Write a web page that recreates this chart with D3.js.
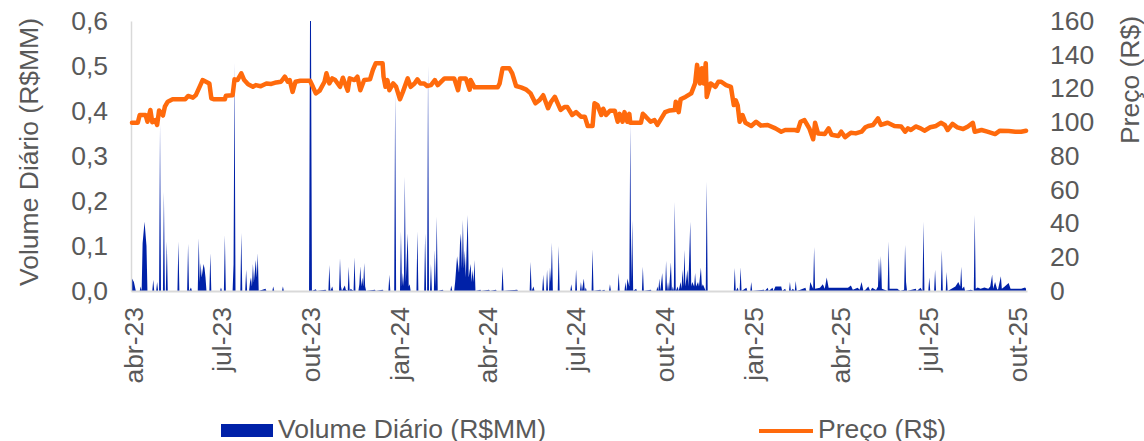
<!DOCTYPE html>
<html><head><meta charset="utf-8">
<script src="https://cdn.jsdelivr.net/npm/d3@7"></script>
<style>
body{margin:0;background:#fff;}
svg text{font-family:"Liberation Sans",Arial,sans-serif;font-size:26.5px;fill:#595959;}
</style>
</head><body>
<svg id="chart" width="1144" height="441"></svg>
<script>
const monthNames = ["jan","fev","mar","abr","mai","jun","jul","ago","set","out","nov","dez"];
const volumeTicks = [0, 0.1, 0.2, 0.3, 0.4, 0.5, 0.6];
const priceTicks = [0, 20, 40, 60, 80, 100, 120, 140, 160];
const seriesNames = ["Volume Diário (R$MM)", "Preço (R$)"];
const axisTitles = ["Volume Diário (R$MM)", "Preço (R$)"];
const dateDomain = ["2023-03-30", "2025-10-11"];

const price = [
["2023-03-31",99.7],["2023-04-06",99.7],["2023-04-08",104.3],["2023-04-14",104.3],["2023-04-16",100.3],["2023-04-19",107.3],["2023-04-21",100.0],["2023-04-24",101.3],["2023-04-26",98.4],["2023-04-28",107.0],
["2023-05-02",104.0],["2023-05-04",109.2],["2023-05-07",112.2],["2023-05-12",113.6],["2023-05-25",113.6],["2023-05-28",115.6],["2023-06-02",114.6],["2023-06-05",116.1],["2023-06-09",121.1],["2023-06-12",125.0],
["2023-06-19",123.0],["2023-06-21",114.2],["2023-06-24",113.6],["2023-07-05",113.6],["2023-07-06",115.7],["2023-07-13",116.0],["2023-07-15",125.4],["2023-07-18",125.0],["2023-07-22",129.0],["2023-07-25",125.0],
["2023-07-29",122.5],["2023-08-03",121.0],["2023-08-06",122.0],["2023-08-11",121.3],["2023-08-17",123.0],["2023-08-22",122.7],["2023-08-27",123.6],["2023-09-01",124.0],["2023-09-05",127.0],["2023-09-08",124.0],
["2023-09-10",125.0],["2023-09-13",118.0],["2023-09-16",124.0],["2023-09-21",124.6],["2023-10-01",124.6],["2023-10-04",121.0],["2023-10-07",117.1],["2023-10-11",118.7],["2023-10-16",124.0],["2023-10-18",129.0],
["2023-10-21",123.0],["2023-10-24",126.0],["2023-10-27",125.0],["2023-11-01",121.0],["2023-11-04",126.4],["2023-11-09",118.7],["2023-11-11",126.0],["2023-11-16",125.0],["2023-11-19",127.0],["2023-11-22",119.0],
["2023-11-26",125.0],["2023-12-02",125.4],["2023-12-05",131.0],["2023-12-08",135.0],["2023-12-15",135.0],["2023-12-16",127.0],["2023-12-18",121.0],["2023-12-20",125.0],["2023-12-22",119.0],["2023-12-26",123.0],
["2023-12-29",121.0],["2024-01-02",113.6],["2024-01-05",118.0],["2024-01-10",126.0],["2024-01-13",121.0],["2024-01-17",123.0],["2024-01-20",125.4],["2024-01-23",123.0],["2024-01-27",123.0],["2024-01-30",121.5],
["2024-02-03",122.0],["2024-02-07",125.0],["2024-02-10",122.0],["2024-02-17",126.0],["2024-02-27",126.0],["2024-03-02",119.0],["2024-03-04",126.0],["2024-03-10",126.0],["2024-03-14",119.3],["2024-03-15",125.0],
["2024-03-19",120.7],["2024-04-12",120.7],["2024-04-14",123.0],["2024-04-17",132.0],["2024-04-24",132.0],["2024-04-27",129.0],["2024-05-01",121.5],["2024-05-06",120.7],["2024-05-11",119.5],["2024-05-16",117.1],
["2024-05-21",111.2],["2024-05-25",113.0],["2024-05-29",116.0],["2024-06-03",108.3],["2024-06-06",112.0],["2024-06-10",115.1],["2024-06-13",111.2],["2024-06-16",107.3],["2024-06-20",109.0],["2024-06-23",109.0],
["2024-06-28",104.3],["2024-07-02",106.0],["2024-07-07",103.3],["2024-07-11",103.3],["2024-07-14",97.8],["2024-07-19",97.8],["2024-07-21",111.2],["2024-07-24",110.3],["2024-07-28",104.3],["2024-07-30",108.0],
["2024-08-02",104.3],["2024-08-06",106.8],["2024-08-11",106.8],["2024-08-14",100.3],["2024-08-16",105.0],["2024-08-19",100.3],["2024-08-21",106.0],["2024-08-24",100.3],["2024-08-26",105.0],["2024-08-27",99.7],
["2024-09-07",99.7],["2024-09-09",105.0],["2024-09-12",103.3],["2024-09-17",100.3],["2024-09-21",101.3],["2024-09-24",98.4],["2024-09-27",101.3],["2024-10-02",106.0],["2024-10-07",107.0],["2024-10-12",107.3],
["2024-10-13",112.2],["2024-10-16",106.0],["2024-10-18",113.6],["2024-10-23",115.0],["2024-10-29",117.1],["2024-11-02",123.0],["2024-11-04",134.0],["2024-11-07",123.0],["2024-11-09",132.0],["2024-11-11",123.0],
["2024-11-13",135.0],["2024-11-14",115.0],["2024-11-18",123.0],["2024-11-23",121.0],["2024-11-26",124.0],["2024-11-29",124.0],["2024-12-04",122.0],["2024-12-09",121.0],["2024-12-12",110.2],["2024-12-14",113.0],
["2024-12-16",110.0],["2024-12-18",100.3],["2024-12-21",104.3],["2024-12-24",99.7],["2024-12-30",97.8],["2025-01-04",100.3],["2025-01-09",98.0],["2025-01-16",98.4],["2025-01-24",96.4],["2025-01-30",94.4],
["2025-02-03",95.4],["2025-02-13",95.4],["2025-02-16",95.0],["2025-02-19",100.3],["2025-02-23",101.3],["2025-02-28",96.4],["2025-03-04",89.9],["2025-03-06",99.7],["2025-03-09",93.4],["2025-03-16",93.0],
["2025-03-20",96.4],["2025-03-23",92.6],["2025-03-30",91.9],["2025-04-02",94.4],["2025-04-06",91.2],["2025-04-12",93.8],["2025-04-17",93.4],["2025-04-23",94.4],["2025-04-27",97.0],["2025-04-30",97.8],
["2025-05-05",98.4],["2025-05-10",102.3],["2025-05-13",98.4],["2025-05-20",99.7],["2025-05-27",97.8],["2025-06-03",97.5],["2025-06-07",94.4],["2025-06-10",96.4],["2025-06-13",95.4],["2025-06-18",97.5],
["2025-06-23",96.4],["2025-06-27",95.0],["2025-07-03",97.0],["2025-07-09",97.8],["2025-07-14",99.7],["2025-07-18",98.4],["2025-07-21",95.4],["2025-07-26",99.0],["2025-07-31",97.0],["2025-08-06",96.0],
["2025-08-11",97.5],["2025-08-16",99.7],["2025-08-18",94.4],["2025-08-25",95.4],["2025-08-31",94.4],["2025-09-08",93.0],["2025-09-13",95.0],["2025-09-22",94.8],["2025-09-29",94.4],["2025-10-05",94.4],
["2025-10-10",95.0]
];

const volume = [
["2023-03-31",0.028],["2023-04-02",0.02],["2023-04-04",0],["2023-04-08",0],["2023-04-09",0.01],["2023-04-10",0],["2023-04-11",0.106],["2023-04-13",0.154],["2023-04-15",0.1],["2023-04-16",0],
["2023-04-21",0],["2023-04-22",0.025],["2023-04-23",0],["2023-04-25",0],["2023-04-26",0.02],["2023-04-27",0],["2023-04-28",0],["2023-04-29",0.37],["2023-04-30",0],["2023-05-02",0],
["2023-05-03",0.22],["2023-05-04",0],["2023-05-05",0],["2023-05-06",0.11],["2023-05-07",0],["2023-05-17",0],["2023-05-18",0.11],["2023-05-19",0],["2023-05-27",0],["2023-05-28",0.105],
["2023-05-29",0],["2023-05-31",0.008],["2023-06-01",0],["2023-06-07",0],["2023-06-08",0.117],["2023-06-09",0.02],["2023-06-10",0.062],["2023-06-11",0.03],["2023-06-13",0.06],["2023-06-14",0.05],
["2023-06-15",0.03],["2023-06-16",0],["2023-06-19",0],["2023-06-20",0.084],["2023-06-21",0],["2023-06-30",0],["2023-07-01",0.008],["2023-07-02",0],["2023-07-04",0],["2023-07-05",0.124],
["2023-07-06",0],["2023-07-13",0],["2023-07-14",0.06],["2023-07-15",0.507],["2023-07-16",0],["2023-07-21",0],["2023-07-22",0.129],["2023-07-23",0],["2023-07-26",0],["2023-07-27",0.047],
["2023-07-28",0],["2023-07-30",0],["2023-07-31",0.02],["2023-08-01",0.03],["2023-08-02",0.01],["2023-08-03",0.06],["2023-08-04",0.02],["2023-08-06",0.069],["2023-08-07",0.03],["2023-08-08",0.084],
["2023-08-09",0],["2023-08-16",0.005],["2023-08-17",0],["2023-08-23",0],["2023-08-24",0.01],["2023-08-25",0],["2023-09-02",0],["2023-09-03",0.01],["2023-09-04",0],["2023-09-30",0],
["2023-10-01",0.6],["2023-10-02",0.6],["2023-10-03",0],["2023-10-07",0.004],["2023-10-08",0],["2023-10-17",0.003],["2023-10-18",0],["2023-10-20",0],["2023-10-21",0.058],["2023-10-22",0],
["2023-10-24",0.01],["2023-10-25",0],["2023-10-31",0],["2023-11-01",0.073],["2023-11-02",0.01],["2023-11-03",0],["2023-11-06",0.012],["2023-11-07",0.003],["2023-11-09",0],["2023-11-10",0.054],
["2023-11-11",0],["2023-11-12",0.005],["2023-11-15",0],["2023-11-16",0.075],["2023-11-17",0],["2023-11-20",0],["2023-11-21",0.015],["2023-11-22",0.055],["2023-11-23",0.01],["2023-11-24",0.03],
["2023-11-25",0.01],["2023-11-26",0.062],["2023-11-27",0.01],["2023-11-28",0],["2023-12-07",0.003],["2023-12-08",0],["2023-12-15",0.003],["2023-12-16",0],["2023-12-21",0],["2023-12-22",0.036],
["2023-12-23",0],["2023-12-27",0],["2023-12-28",0.44],["2023-12-29",0],["2024-01-02",0],["2024-01-03",0.132],["2024-01-04",0.01],["2024-01-05",0.04],["2024-01-06",0.01],["2024-01-07",0.254],
["2024-01-08",0.02],["2024-01-10",0.128],["2024-01-11",0.01],["2024-01-12",0.015],["2024-01-13",0],["2024-01-19",0],["2024-01-20",0.132],["2024-01-21",0],["2024-01-27",0],["2024-01-28",0.128],
["2024-01-29",0],["2024-01-30",0],["2024-01-31",0.5],["2024-02-01",0],["2024-02-02",0],["2024-02-03",0.06],["2024-02-04",0],["2024-02-06",0],["2024-02-07",0.091],["2024-02-08",0.01],
["2024-02-09",0.165],["2024-02-10",0],["2024-02-15",0.003],["2024-02-16",0],["2024-02-23",0],["2024-02-24",0.012],["2024-02-25",0],["2024-02-27",0],["2024-02-28",0.02],["2024-03-01",0.077],
["2024-03-03",0.04],["2024-03-04",0.106],["2024-03-05",0.128],["2024-03-06",0.05],["2024-03-07",0.158],["2024-03-08",0.05],["2024-03-09",0.09],["2024-03-10",0.03],["2024-03-12",0.169],["2024-03-13",0.03],
["2024-03-15",0.06],["2024-03-16",0.02],["2024-03-17",0.047],["2024-03-18",0.02],["2024-03-19",0.069],["2024-03-20",0],["2024-03-25",0.003],["2024-03-26",0],["2024-04-03",0.003],["2024-04-04",0],
["2024-04-10",0.003],["2024-04-11",0],["2024-04-16",0],["2024-04-17",0.054],["2024-04-18",0],["2024-05-02",0.003],["2024-05-03",0],["2024-05-15",0],["2024-05-16",0.065],["2024-05-17",0],
["2024-05-19",0.01],["2024-05-20",0],["2024-05-28",0],["2024-05-29",0.036],["2024-05-30",0],["2024-06-01",0],["2024-06-02",0.047],["2024-06-03",0],["2024-06-04",0],["2024-06-05",0.052],
["2024-06-06",0.02],["2024-06-07",0.107],["2024-06-08",0],["2024-06-13",0],["2024-06-14",0.1],["2024-06-15",0],["2024-06-26",0],["2024-06-27",0.015],["2024-06-28",0],["2024-07-01",0],
["2024-07-02",0.048],["2024-07-03",0],["2024-07-06",0],["2024-07-07",0.02],["2024-07-08",0],["2024-07-10",0.028],["2024-07-11",0],["2024-07-12",0.008],["2024-07-13",0],["2024-07-18",0],
["2024-07-19",0.093],["2024-07-20",0],["2024-07-27",0.003],["2024-07-28",0],["2024-07-31",0.003],["2024-08-01",0],["2024-08-05",0],["2024-08-06",0.015],["2024-08-07",0],["2024-08-14",0],
["2024-08-15",0.04],["2024-08-16",0],["2024-08-21",0],["2024-08-22",0.02],["2024-08-23",0],["2024-08-24",0.028],["2024-08-26",0.01],["2024-08-27",0.37],["2024-08-28",0.02],["2024-08-29",0.158],
["2024-08-30",0],["2024-09-02",0.005],["2024-09-03",0],["2024-09-08",0],["2024-09-09",0.054],["2024-09-10",0],["2024-09-17",0.003],["2024-09-18",0],["2024-09-23",0],["2024-09-24",0.01],
["2024-09-25",0],["2024-09-26",0.028],["2024-09-27",0],["2024-09-29",0.04],["2024-09-30",0],["2024-10-02",0],["2024-10-03",0.067],["2024-10-04",0],["2024-10-05",0.02],["2024-10-06",0],
["2024-10-08",0.064],["2024-10-09",0],["2024-10-10",0.01],["2024-10-11",0],["2024-10-12",0.198],["2024-10-13",0],["2024-10-15",0.01],["2024-10-16",0],["2024-10-18",0.02],["2024-10-19",0.005],
["2024-10-20",0.047],["2024-10-21",0.01],["2024-10-22",0.091],["2024-10-23",0.01],["2024-10-25",0.047],["2024-10-26",0.01],["2024-10-28",0.154],["2024-10-29",0.01],["2024-10-30",0.02],["2024-11-01",0.01],
["2024-11-02",0.04],["2024-11-03",0.01],["2024-11-05",0.02],["2024-11-06",0.01],["2024-11-08",0.052],["2024-11-09",0.01],["2024-11-10",0.015],["2024-11-13",0],["2024-11-14",0.243],["2024-11-15",0],
["2024-12-12",0],["2024-12-13",0.051],["2024-12-14",0],["2024-12-16",0.008],["2024-12-17",0],["2024-12-18",0],["2024-12-19",0.053],["2024-12-20",0],["2024-12-25",0.007],["2024-12-26",0],
["2024-12-29",0],["2024-12-30",0.02],["2024-12-31",0],["2025-01-12",0.003],["2025-01-13",0],["2025-01-16",0.007],["2025-01-17",0],["2025-01-21",0.007],["2025-01-22",0],["2025-01-24",0.01],
["2025-01-27",0.01],["2025-01-30",0.01],["2025-01-31",0],["2025-02-03",0.005],["2025-02-04",0],["2025-02-07",0],["2025-02-08",0.02],["2025-02-09",0],["2025-02-11",0.005],["2025-02-13",0],
["2025-02-14",0.022],["2025-02-15",0],["2025-02-18",0.002],["2025-02-24",0.007],["2025-02-25",0],["2025-02-28",0],["2025-03-01",0.02],["2025-03-04",0.005],["2025-03-05",0.098],["2025-03-06",0.005],
["2025-03-11",0.007],["2025-03-14",0.015],["2025-03-16",0.005],["2025-03-18",0.03],["2025-03-20",0.007],["2025-03-25",0.007],["2025-03-30",0.007],["2025-04-04",0.007],["2025-04-09",0.007],["2025-04-12",0.012],
["2025-04-14",0.003],["2025-04-19",0.007],["2025-04-21",0.003],["2025-04-23",0.02],["2025-04-25",0],["2025-04-27",0.003],["2025-04-30",0.01],["2025-05-02",0],["2025-05-04",0.007],["2025-05-08",0.002],
["2025-05-10",0.01],["2025-05-11",0.072],["2025-05-12",0.02],["2025-05-13",0.078],["2025-05-14",0.005],["2025-05-20",0],["2025-05-21",0.11],["2025-05-22",0.005],["2025-05-26",0.005],["2025-05-30",0.005],
["2025-06-02",0],["2025-06-06",0.003],["2025-06-07",0.102],["2025-06-08",0.02],["2025-06-09",0],["2025-06-18",0.005],["2025-06-19",0],["2025-06-23",0.007],["2025-06-25",0],["2025-06-26",0.154],
["2025-06-27",0],["2025-07-01",0],["2025-07-02",0.03],["2025-07-03",0],["2025-07-07",0],["2025-07-08",0.047],["2025-07-09",0],["2025-07-14",0],["2025-07-15",0.091],["2025-07-16",0],
["2025-07-19",0],["2025-07-20",0.042],["2025-07-21",0],["2025-07-29",0.01],["2025-08-01",0.02],["2025-08-03",0.01],["2025-08-04",0.054],["2025-08-05",0.005],["2025-08-07",0.01],["2025-08-08",0],
["2025-08-14",0.003],["2025-08-17",0],["2025-08-18",0.169],["2025-08-19",0.005],["2025-08-21",0.008],["2025-08-24",0.005],["2025-08-28",0.008],["2025-09-01",0.005],["2025-09-03",0.01],["2025-09-05",0.036],
["2025-09-06",0.005],["2025-09-08",0.02],["2025-09-10",0.005],["2025-09-11",0.003],["2025-09-14",0.033],["2025-09-15",0.005],["2025-09-18",0.01],["2025-09-22",0.018],["2025-09-24",0.005],["2025-09-30",0.005],
["2025-10-05",0.005],["2025-10-09",0.008],["2025-10-10",0.005]
];

const parse = d3.timeParse("%Y-%m-%d");
const priceData = price.map(([d, v]) => ({date: parse(d), v}));
const volData = volume.map(([d, v]) => ({date: parse(d), v}));

const BLUE = "#0021A8", ORANGE = "#FF6A0C", AXIS = "#D9D9D9";
const plotLeft = 131, plotRight = 1027, plotTop = 21, plotBottom = 291;

const svg = d3.select("#chart");
const x = d3.scaleTime().domain(dateDomain.map(parse)).range([plotLeft, plotRight]);
const yL = d3.scaleLinear().domain([0, 0.6]).range([plotBottom, plotTop]);
const yR = d3.scaleLinear().domain([0, 160]).range([plotBottom, plotTop]);

// volume area
svg.append("path")
  .datum(volData)
  .attr("fill", BLUE)
  .attr("d", d3.area().x(d => x(d.date)).y0(yL(0)).y1(d => yL(d.v)));

// left axis
const gL = svg.append("g").attr("transform", `translate(${plotLeft},0)`)
  .call(d3.axisLeft(yL).tickValues(volumeTicks)
    .tickFormat(d => d3.format(".1f")(d).replace(".", ","))
    .tickSize(0).tickSizeOuter(0).tickPadding(23));
gL.select(".domain").attr("stroke", AXIS).attr("stroke-width", 1.5);
gL.selectAll("text").attr("font-family", null).attr("font-size", null).attr("fill", null);

// right axis
const gR = svg.append("g").attr("transform", `translate(${plotRight},0)`)
  .call(d3.axisRight(yR).tickValues(priceTicks).tickSize(0).tickSizeOuter(0).tickPadding(23));
gR.select(".domain").remove();
gR.selectAll("text").attr("font-family", null).attr("font-size", null).attr("fill", null);

// bottom axis
const gB = svg.append("g").attr("transform", `translate(0,${plotBottom})`)
  .call(d3.axisBottom(x).ticks(d3.timeMonth.every(3))
    .tickFormat(d => monthNames[d.getMonth()] + "-" + String(d.getFullYear()).slice(2))
    .tickSize(0).tickSizeOuter(0));
gB.select(".domain").attr("stroke", AXIS).attr("stroke-width", 2);
gB.selectAll("text")
  .attr("font-family", null).attr("font-size", null).attr("fill", null)
  .attr("transform", "rotate(-90)")
  .attr("text-anchor", "end")
  .attr("x", -16).attr("y", 0).attr("dy", "0.35em");

// price line
svg.append("path")
  .datum(priceData)
  .attr("fill", "none")
  .attr("stroke", ORANGE)
  .attr("stroke-width", 4.5)
  .attr("stroke-linejoin", "round")
  .attr("stroke-linecap", "round")
  .attr("d", d3.line().x(d => x(d.date)).y(d => yR(d.v)));

// axis titles
svg.append("text").attr("transform", "translate(38,152) rotate(-90)")
  .attr("text-anchor", "middle").text(axisTitles[0]);
svg.append("text").attr("transform", "translate(1139,80) rotate(-90)")
  .attr("text-anchor", "middle").text(axisTitles[1]);

// legend
svg.append("rect").attr("x", 221).attr("y", 424).attr("width", 52).attr("height", 13).attr("fill", BLUE);
svg.append("text").attr("x", 278).attr("y", 438).text(seriesNames[0]);
svg.append("line").attr("x1", 759).attr("x2", 813).attr("y1", 431).attr("y2", 431)
  .attr("stroke", ORANGE).attr("stroke-width", 4);
svg.append("text").attr("x", 818).attr("y", 438).text(seriesNames[1]);
</script>
</body></html>
